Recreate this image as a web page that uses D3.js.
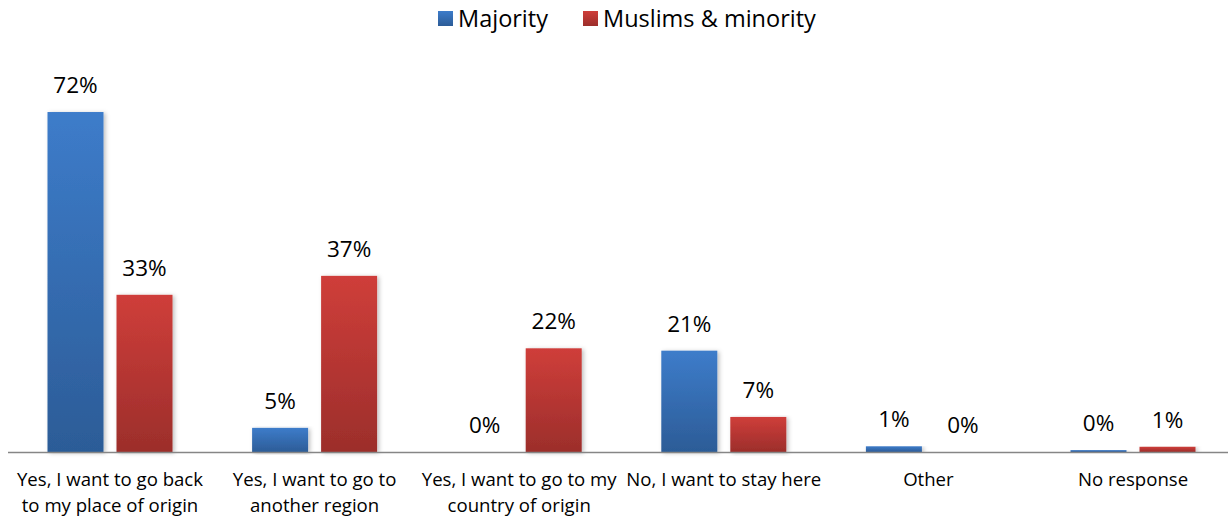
<!DOCTYPE html>
<html>
<head>
<meta charset="utf-8">
<script src="https://cdnjs.cloudflare.com/ajax/libs/d3/7.8.5/d3.min.js"></script>
<style>
  body { margin: 0; background: #fff; }
  svg { display: block; font-family: "Open Sans", sans-serif; }
</style>
</head>
<body>
<div id="chart-area"></div>
<script>
// Data
var categories = [
  "Yes, I want to go back to my place of origin",
  "Yes, I want to go to another region",
  "Yes, I want to go to my country of origin",
  "No, I want to stay here",
  "Other",
  "No response"
];
var categoryLines = [
  ["Yes, I want to go back", "to my place of origin"],
  ["Yes, I want to go to", "another region"],
  ["Yes, I want to go to my", "country of origin"],
  ["No, I want to stay here"],
  ["Other"],
  ["No response"]
];
var seriesNames = ["Majority", "Muslims & minority"];
var majority = [71.8, 5.1, 0, 21.4, 1.2, 0.4];
var minority = [33.2, 37.2, 21.9, 7.4, 0, 1.1];

var W = 1228, H = 519;
var baseline = 452;

var svg = d3.select("#chart-area")
  .append("svg")
  .attr("width", W)
  .attr("height", H);

var defs = svg.append("defs");

// Gradients (lighter top, darker bottom)
function grad(id, top, bottom) {
  var lg = defs.append("linearGradient")
    .attr("id", id)
    .attr("x1", 0).attr("y1", 0).attr("x2", 0).attr("y2", 1);
  lg.append("stop").attr("offset", "0%").attr("stop-color", top);
  lg.append("stop").attr("offset", "100%").attr("stop-color", bottom);
}
grad("gBlue", "#3d7cca", "#2c5c97");
grad("gRed", "#cf3e3a", "#9c2e2b");

var shadow = defs.append("filter")
  .attr("id", "shadow")
  .attr("x", "-20%").attr("y", "-5%")
  .attr("width", "150%").attr("height", "115%");
shadow.append("feDropShadow")
  .attr("dx", 2).attr("dy", 1)
  .attr("stdDeviation", 2)
  .attr("flood-color", "#000")
  .attr("flood-opacity", 0.25);

// Scales
var x = d3.scaleBand()
  .domain(categories)
  .range([7.7, 1235.3])
  .paddingInner(0)
  .paddingOuter(0);

// two bars 56px wide with a 13px gap
var xInner = d3.scaleBand()
  .domain(seriesNames)
  .range([0, 125])
  .paddingInner(13 / 69);

var y = d3.scaleLinear()
  .domain([0, 80])
  .range([baseline, baseline - 80 * 4.735]);

var fills = ["url(#gBlue)", "url(#gRed)"];
var rows = categories.map(function(c, i) {
  return { cat: c, vals: [majority[i], minority[i]] };
});

var groupOffset = (x.bandwidth() - 125) / 2;

var groups = svg.selectAll("g.cat")
  .data(rows)
  .enter()
  .append("g")
  .attr("class", "cat")
  .attr("transform", function(d) {
    return "translate(" + (x(d.cat) + groupOffset) + ",0)";
  });

// Bars
groups.selectAll("rect")
  .data(function(d) {
    return d.vals.map(function(v, j) { return { s: seriesNames[j], v: v, j: j }; });
  })
  .enter()
  .filter(function(d) { return d.v > 0; })
  .append("rect")
  .attr("x", function(d) { return xInner(d.s); })
  .attr("y", function(d) { return y(d.v); })
  .attr("width", xInner.bandwidth())
  .attr("height", function(d) { return baseline - y(d.v); })
  .attr("fill", function(d) { return fills[d.j]; })
  .attr("filter", "url(#shadow)");

// Value labels
groups.selectAll("text.val")
  .data(function(d) {
    return d.vals.map(function(v, j) { return { s: seriesNames[j], v: v }; });
  })
  .enter()
  .append("text")
  .attr("class", "val")
  .attr("x", function(d) { return xInner(d.s) + xInner.bandwidth() / 2; })
  .attr("y", function(d) { return y(d.v) - 19; })
  .attr("text-anchor", "middle")
  .attr("font-size", "22.5px")
  .attr("fill", "#000")
  .text(function(d) { return Math.round(d.v) + "%"; });

// Axis line
svg.append("line")
  .attr("x1", 8).attr("x2", W)
  .attr("y1", baseline + 0.5).attr("y2", baseline + 0.5)
  .attr("stroke", "#868686")
  .attr("stroke-width", 1.5);

// Category labels
var catText = svg.selectAll("text.cat")
  .data(rows)
  .enter()
  .append("text")
  .attr("class", "cat")
  .attr("text-anchor", "middle")
  .attr("font-size", "18.6px")
  .attr("fill", "#000");

catText.selectAll("tspan")
  .data(function(d, i) {
    var cx = x(d.cat) + x.bandwidth() / 2;
    return categoryLines[i].map(function(l) { return { t: l, cx: cx }; });
  })
  .enter()
  .append("tspan")
  .attr("x", function(d) { return d.cx; })
  .attr("y", function(d, k) { return 486 + k * 26; })
  .text(function(d) { return d.t; });

// Legend
var legend = svg.append("g").attr("transform", "translate(438,0)");
var legX = [0, 145];
seriesNames.forEach(function(name, i) {
  legend.append("rect")
    .attr("x", legX[i]).attr("y", 11)
    .attr("width", 15).attr("height", 15)
    .attr("fill", fills[i]);
  legend.append("text")
    .attr("x", legX[i] + 20).attr("y", 27)
    .attr("font-size", "23.5px")
    .attr("fill", "#000")
    .text(name);
});
</script>
</body>
</html>
